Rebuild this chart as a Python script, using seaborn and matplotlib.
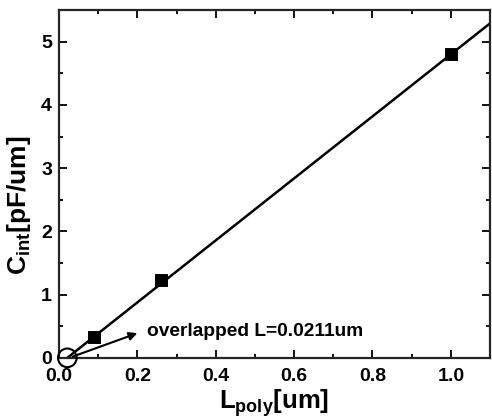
import numpy as np
import pandas as pd
import seaborn as sns
import matplotlib.pyplot as plt
from matplotlib.ticker import MultipleLocator

# measured points
l_poly = [0.09, 0.26, 1.0]
c_int = [0.33, 1.23, 4.80]

# linear fit endpoints
fit_x = [0.0211, 1.1]
fit_y = [0.0, 5.29]

# x-intercept marker
icpt_x = [0.0211]
icpt_y = [0.0]

sns.set_style("ticks")
plt.rcParams["font.family"] = ["Liberation Sans", "DejaVu Sans"]
plt.rcParams["font.weight"] = "bold"
plt.rcParams["text.color"] = "black"
plt.rcParams["axes.labelcolor"] = "black"
plt.rcParams["xtick.color"] = "black"
plt.rcParams["ytick.color"] = "black"
plt.rcParams["mathtext.fontset"] = "custom"
plt.rcParams["mathtext.rm"] = "Liberation Sans:bold"
plt.rcParams["mathtext.it"] = "Liberation Sans:bold"
plt.rcParams["mathtext.bf"] = "Liberation Sans:bold"
plt.rcParams["mathtext.default"] = "rm"

pts = pd.DataFrame({"L": l_poly, "C": c_int})
fit = pd.DataFrame({"L": fit_x, "C": fit_y})

fig = plt.figure(figsize=(4.92, 4.2), dpi=100)
ax = fig.add_axes([0.12, 0.148, 0.876, 0.828])

sns.lineplot(data=fit, x="L", y="C", ax=ax, color="black", linewidth=1.8)
sns.scatterplot(data=pts, x="L", y="C", ax=ax, marker="s", s=70,
                color="black", edgecolor="black", zorder=5)
ax.scatter(icpt_x, icpt_y, s=180, facecolors="none", edgecolors="black",
           linewidths=1.5, clip_on=False, zorder=6)

# arrow from the intercept to the note
ax.annotate("", xy=(0.2, 0.39), xytext=(0.035, 0.02),
            arrowprops=dict(arrowstyle="-|>", color="black", lw=1.5,
                            mutation_scale=12, shrinkA=0, shrinkB=0))
ax.text(0.225, 0.42, "overlapped L=0.0211um", fontsize=13.8,
        fontweight="bold", va="center", ha="left")

ax.set_xlim(0.0, 1.1)
ax.set_ylim(0, 5.5)
ax.xaxis.set_major_locator(MultipleLocator(0.2))
ax.xaxis.set_minor_locator(MultipleLocator(0.1))
ax.yaxis.set_major_locator(MultipleLocator(1))
ax.yaxis.set_minor_locator(MultipleLocator(0.5))
ax.xaxis.set_major_formatter(plt.FuncFormatter(lambda v, p: f"{v:.1f}"))

ax.tick_params(which="both", direction="in", top=True, right=True,
               labelsize=14, width=1.3)
ax.tick_params(which="major", length=6)
ax.tick_params(which="minor", length=3)
ax.tick_params(axis="x", pad=7)
ax.tick_params(axis="y", pad=5)
for lab in ax.get_xticklabels() + ax.get_yticklabels():
    lab.set_fontweight("bold")
for sp in ax.spines.values():
    sp.set_linewidth(1.6)
    sp.set_visible(True)

ax.set_xlabel("L$_{poly}$[um]", fontsize=18.5, fontweight="bold")
ax.set_ylabel("C$_{int}$[pF/um]", fontsize=19, fontweight="bold")
ax.xaxis.set_label_coords(0.50, -0.085, transform=ax.transAxes)
ax.yaxis.set_label_coords(-0.06, 0.44, transform=ax.transAxes)

fig.savefig("out.png", dpi=100)
